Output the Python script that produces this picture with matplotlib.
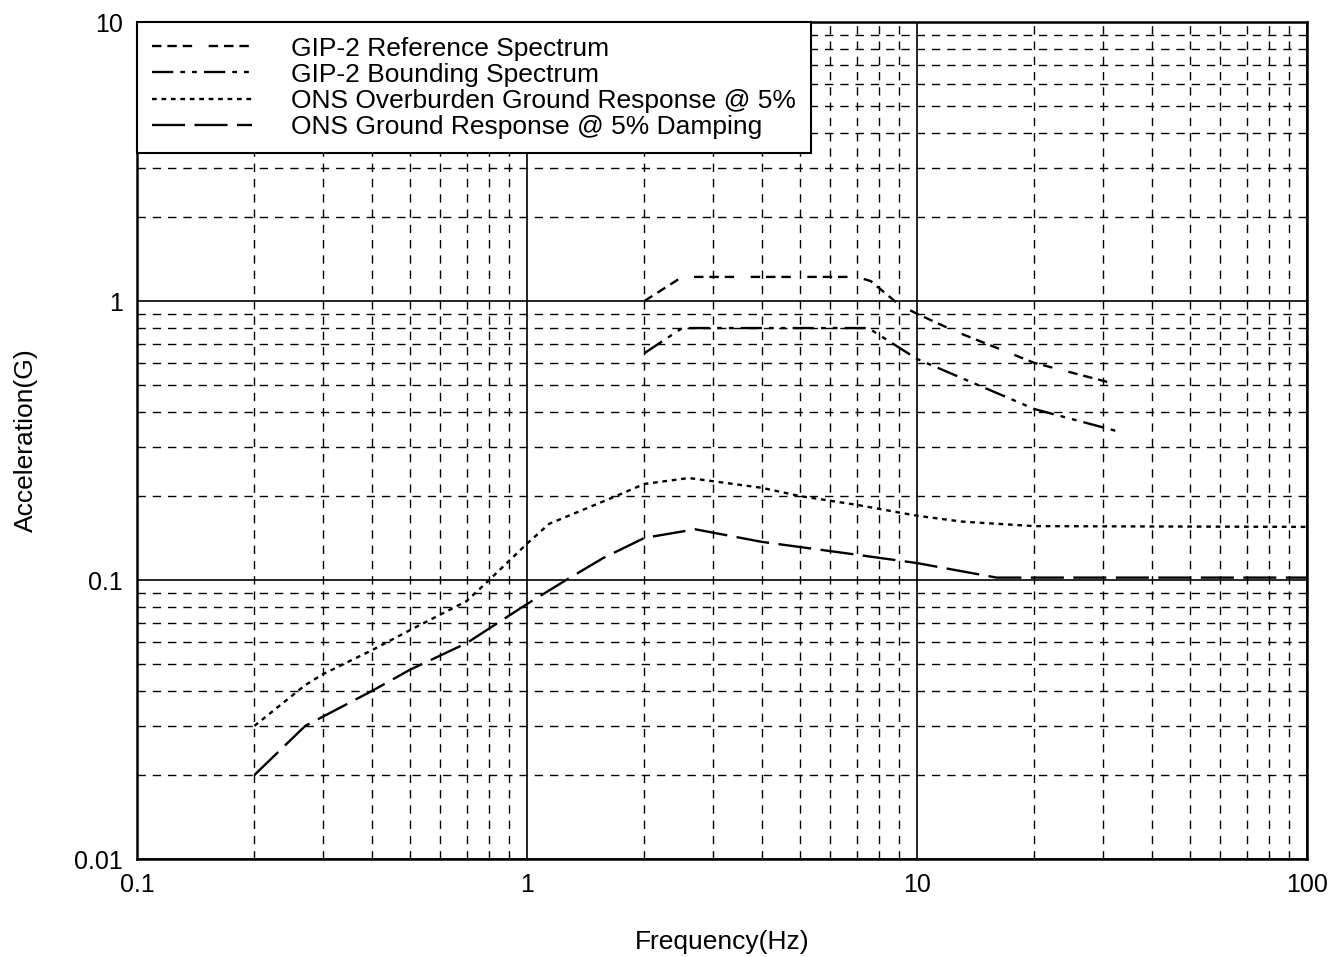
import matplotlib.pyplot as plt
from matplotlib.ticker import LogLocator, NullFormatter, FixedLocator, FixedFormatter

plt.rcParams['font.family'] = ['Liberation Sans', 'DejaVu Sans']

# GIP-2 Reference Spectrum
ref_f = [2.0, 2.5, 7.0, 7.6, 9.0, 10.0, 12.5, 20.0, 33.0]
ref_a = [1.0, 1.22, 1.22, 1.18, 0.97, 0.9, 0.78, 0.6, 0.5]

# GIP-2 Bounding Spectrum
bnd_f = [2.0, 2.5, 7.5, 10.0, 13.0, 20.0, 33.0]
bnd_a = [0.65, 0.8, 0.8, 0.62, 0.53, 0.41, 0.34]

# ONS Overburden Ground Response @ 5%
ovb_f = [0.2, 0.27, 0.3, 0.4, 0.5, 0.7, 0.8, 1.0, 1.14, 1.65, 2.0, 2.6, 3.0, 4.0, 5.0, 7.0, 10.0, 13.0, 20.0, 100.0]
ovb_a = [0.03, 0.042, 0.046, 0.056, 0.066, 0.084, 0.1, 0.135, 0.159, 0.197, 0.221, 0.232, 0.226, 0.214, 0.2, 0.186, 0.17, 0.162, 0.156, 0.155]

# ONS Ground Response @ 5% Damping
gnd_f = [0.2, 0.27, 0.4, 0.5, 0.7, 1.0, 1.26, 1.57, 2.0, 2.7, 4.0, 6.5, 10.0, 16.0, 100.0]
gnd_a = [0.02, 0.03, 0.04, 0.0476, 0.0594, 0.082, 0.1, 0.12, 0.1415, 0.152, 0.137, 0.125, 0.115, 0.102, 0.102]

labels = ["GIP-2 Reference Spectrum",
          "GIP-2 Bounding Spectrum",
          "ONS Overburden Ground Response @ 5%",
          "ONS Ground Response @ 5% Damping"]

fig = plt.figure(figsize=(13.38, 9.57), dpi=100)
ax = fig.add_axes([0.1024, 0.1024, 0.8744, 0.8746])

ax.set_xscale('log')
ax.set_yscale('log')
ax.set_xlim(0.1, 100)
ax.set_ylim(0.01, 10)

# grille : decades en trait plein, le reste en tirets
ax.xaxis.set_minor_locator(LogLocator(base=10, subs=range(2, 10)))
ax.yaxis.set_minor_locator(LogLocator(base=10, subs=range(2, 10)))
ax.xaxis.set_minor_formatter(NullFormatter())
ax.yaxis.set_minor_formatter(NullFormatter())
ax.grid(which='major', color='black', linestyle='-', linewidth=1.2)
ax.grid(which='minor', color='black', linestyle=(0, (6, 5)), linewidth=1.0)

ax.xaxis.set_major_locator(FixedLocator([0.1, 1, 10, 100]))
ax.xaxis.set_major_formatter(FixedFormatter(["0.1", "1", "10", "100"]))
ax.yaxis.set_major_locator(FixedLocator([0.01, 0.1, 1, 10]))
ax.yaxis.set_major_formatter(FixedFormatter(["0.01", "0.1", "1", "10"]))
ax.tick_params(which='both', length=0, labelsize=18, pad=10)

ax.plot(ref_f, ref_a, color='black', linewidth=1.7, linestyle=(0, (4, 2.5, 4, 2.5, 4, 7)), label=labels[0])
ax.plot(bnd_f, bnd_a, color='black', linewidth=1.7, linestyle=(0, (9, 3, 2, 3, 2, 3)), label=labels[1])
ax.plot(ovb_f, ovb_a, color='black', linewidth=1.7, linestyle=(0, (2, 2)), label=labels[2])
ax.plot(gnd_f, gnd_a, color='black', linewidth=1.7, linestyle=(0, (14, 4)), label=labels[3])

for s in ax.spines.values():
    s.set_linewidth(1.8)

ax.set_xlabel("Frequency(Hz)", fontsize=19, labelpad=24)
ax.set_ylabel("Acceleration(G)", fontsize=19, labelpad=26)

leg = ax.legend(loc='upper left', fontsize=19, frameon=True, fancybox=False,
                edgecolor='black', framealpha=1, handlelength=3.8, handletextpad=1.5,
                borderaxespad=0, labelspacing=0.08, borderpad=0.55)
leg.get_frame().set_linewidth(1.5)

plt.savefig("out.png", dpi=100)
